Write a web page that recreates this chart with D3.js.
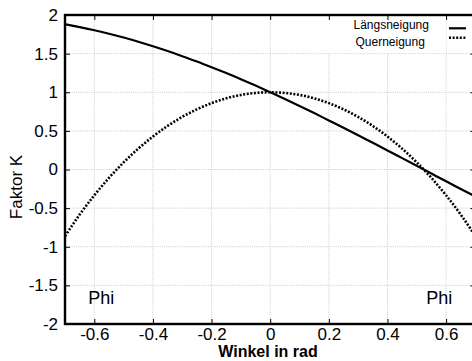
<!DOCTYPE html>
<html>
<head>
<meta charset="utf-8">
<script src="https://cdn.jsdelivr.net/npm/d3@7"></script>
<style>
  html, body { margin: 0; padding: 0; background: #fff; }
  svg { display: block; font-family: "Liberation Sans", Arial, Helvetica, sans-serif; }
</style>
</head>
<body>
<svg id="chart" width="472" height="361"></svg>
<script>
// Angle in rad
const winkel = [-0.7, -0.65, -0.6, -0.55, -0.5, -0.45, -0.4, -0.35, -0.3, -0.25, -0.2, -0.15, -0.1, -0.05,
                0, 0.05, 0.1, 0.15, 0.2, 0.25, 0.3, 0.35, 0.4, 0.45, 0.5, 0.55, 0.6, 0.65, 0.7];
// Faktor K, longitudinal slope
const laengsneigung = [1.881, 1.844, 1.803, 1.758, 1.708, 1.654, 1.595, 1.533, 1.467, 1.398, 1.324, 1.248, 1.169, 1.086,
                       1.000, 0.913, 0.823, 0.730, 0.635, 0.540, 0.443, 0.345, 0.247, 0.147, 0.047, -0.053, -0.153, -0.252, -0.351];
// Faktor K, cross slope
const querneigung = [-0.863, -0.584, -0.334, -0.109, 0.092, 0.270, 0.427, 0.564, 0.681, 0.779, 0.859, 0.921, 0.965, 0.991,
                     1.000, 0.991, 0.965, 0.921, 0.859, 0.779, 0.681, 0.564, 0.427, 0.270, 0.092, -0.109, -0.334, -0.584, -0.863];
const xTicks = [-0.6, -0.4, -0.2, 0, 0.2, 0.4, 0.6];
const yTicks = [-2, -1.5, -1, -0.5, 0, 0.5, 1, 1.5, 2];
const seriesNames = ["Längsneigung", "Querneigung"];

const svg = d3.select("#chart");
const m = { left: 65, right: 475.4, top: 15, bottom: 324 };

const x = d3.scaleLinear().domain([-0.7, 0.7]).range([m.left, m.right]);
const y = d3.scaleLinear().domain([-2, 2]).range([m.bottom, m.top]);

// Dotted grid
const grid = svg.append("g")
  .attr("stroke", "#cacaca").attr("stroke-width", 1).attr("stroke-dasharray", "1,1.2");
grid.selectAll("line.v").data(xTicks).join("line")
  .attr("x1", d => x(d)).attr("x2", d => x(d))
  .attr("y1", m.top).attr("y2", m.bottom);
grid.selectAll("line.h").data(yTicks.filter(d => d > -2 && d < 2)).join("line")
  .attr("x1", m.left).attr("x2", m.right)
  .attr("y1", d => y(d)).attr("y2", d => y(d));

// Opaque key area
svg.append("rect")
  .attr("x", 307).attr("y", m.top).attr("width", 139).attr("height", y(1.5) - m.top - 0.5)
  .attr("fill", "#fff");

// Axes with inward ticks
const fmt = d => d3.format("")(d).replace("−", "-");
const xAxis = svg.append("g").attr("transform", `translate(0,${m.bottom})`)
  .call(d3.axisBottom(x).tickValues(xTicks).tickSize(-5).tickPadding(4).tickFormat(fmt));
const xAxisTop = svg.append("g").attr("transform", `translate(0,${m.top})`)
  .call(d3.axisTop(x).tickValues(xTicks).tickSize(-5).tickFormat(""));
const yAxis = svg.append("g").attr("transform", `translate(${m.left},0)`)
  .call(d3.axisLeft(y).tickValues(yTicks).tickSize(-5).tickPadding(7).tickFormat(fmt));
const yAxisRight = svg.append("g").attr("transform", `translate(${m.right},0)`)
  .call(d3.axisRight(y).tickValues(yTicks).tickSize(-5).tickFormat(""));
[xAxis, xAxisTop, yAxis, yAxisRight].forEach(a => {
  a.select(".domain").remove();
  a.selectAll(".tick line").attr("stroke", "#000").attr("stroke-width", 1);
  a.selectAll(".tick text").attr("fill", "#000").attr("font-size", 17)
    .attr("font-family", "\"Liberation Sans\", Arial, Helvetica, sans-serif");
});

// Curves
const pts = vals => winkel.map((w, i) => [w, vals[i]]);
const line = d3.line().x(d => x(d[0])).y(d => y(d[1])).curve(d3.curveNatural);
const plot = svg.append("g");
plot.append("path").datum(pts(laengsneigung))
  .attr("d", line).attr("fill", "none").attr("stroke", "#000").attr("stroke-width", 2.2);
plot.append("path").datum(pts(querneigung))
  .attr("d", line).attr("fill", "none").attr("stroke", "#000").attr("stroke-width", 2.6)
  .attr("stroke-dasharray", "2,1.6");

// Frame
svg.append("rect")
  .attr("x", m.left).attr("y", m.top).attr("width", m.right - m.left).attr("height", m.bottom - m.top)
  .attr("fill", "none").attr("stroke", "#000").attr("stroke-width", 2.4);

// Key
const key = svg.append("g").attr("font-size", 12).attr("fill", "#000");
key.append("text").attr("x", 353.5).attr("y", 29).text(seriesNames[0]);
key.append("text").attr("x", 355.5).attr("y", 46).text(seriesNames[1]);
key.append("line").attr("x1", 449).attr("x2", 466).attr("y1", 28.3).attr("y2", 28.3)
  .attr("stroke", "#000").attr("stroke-width", 2.2);
key.append("line").attr("x1", 449).attr("x2", 466).attr("y1", 37.7).attr("y2", 37.7)
  .attr("stroke", "#000").attr("stroke-width", 2.6).attr("stroke-dasharray", "2,1.6");

// Axis titles
svg.append("text").attr("x", 268).attr("y", 357).attr("text-anchor", "middle")
  .attr("font-size", 16).attr("font-weight", "bold").text("Winkel in rad");
svg.append("text").attr("transform", "translate(22,187) rotate(-90)").attr("text-anchor", "middle")
  .attr("font-size", 17).text("Faktor K");

// Phi labels
svg.append("text").attr("x", 88.3).attr("y", 304.3).attr("font-size", 18).text("Phi");
svg.append("text").attr("x", 426.3).attr("y", 304.3).attr("font-size", 18).text("Phi");
</script>
</body>
</html>
